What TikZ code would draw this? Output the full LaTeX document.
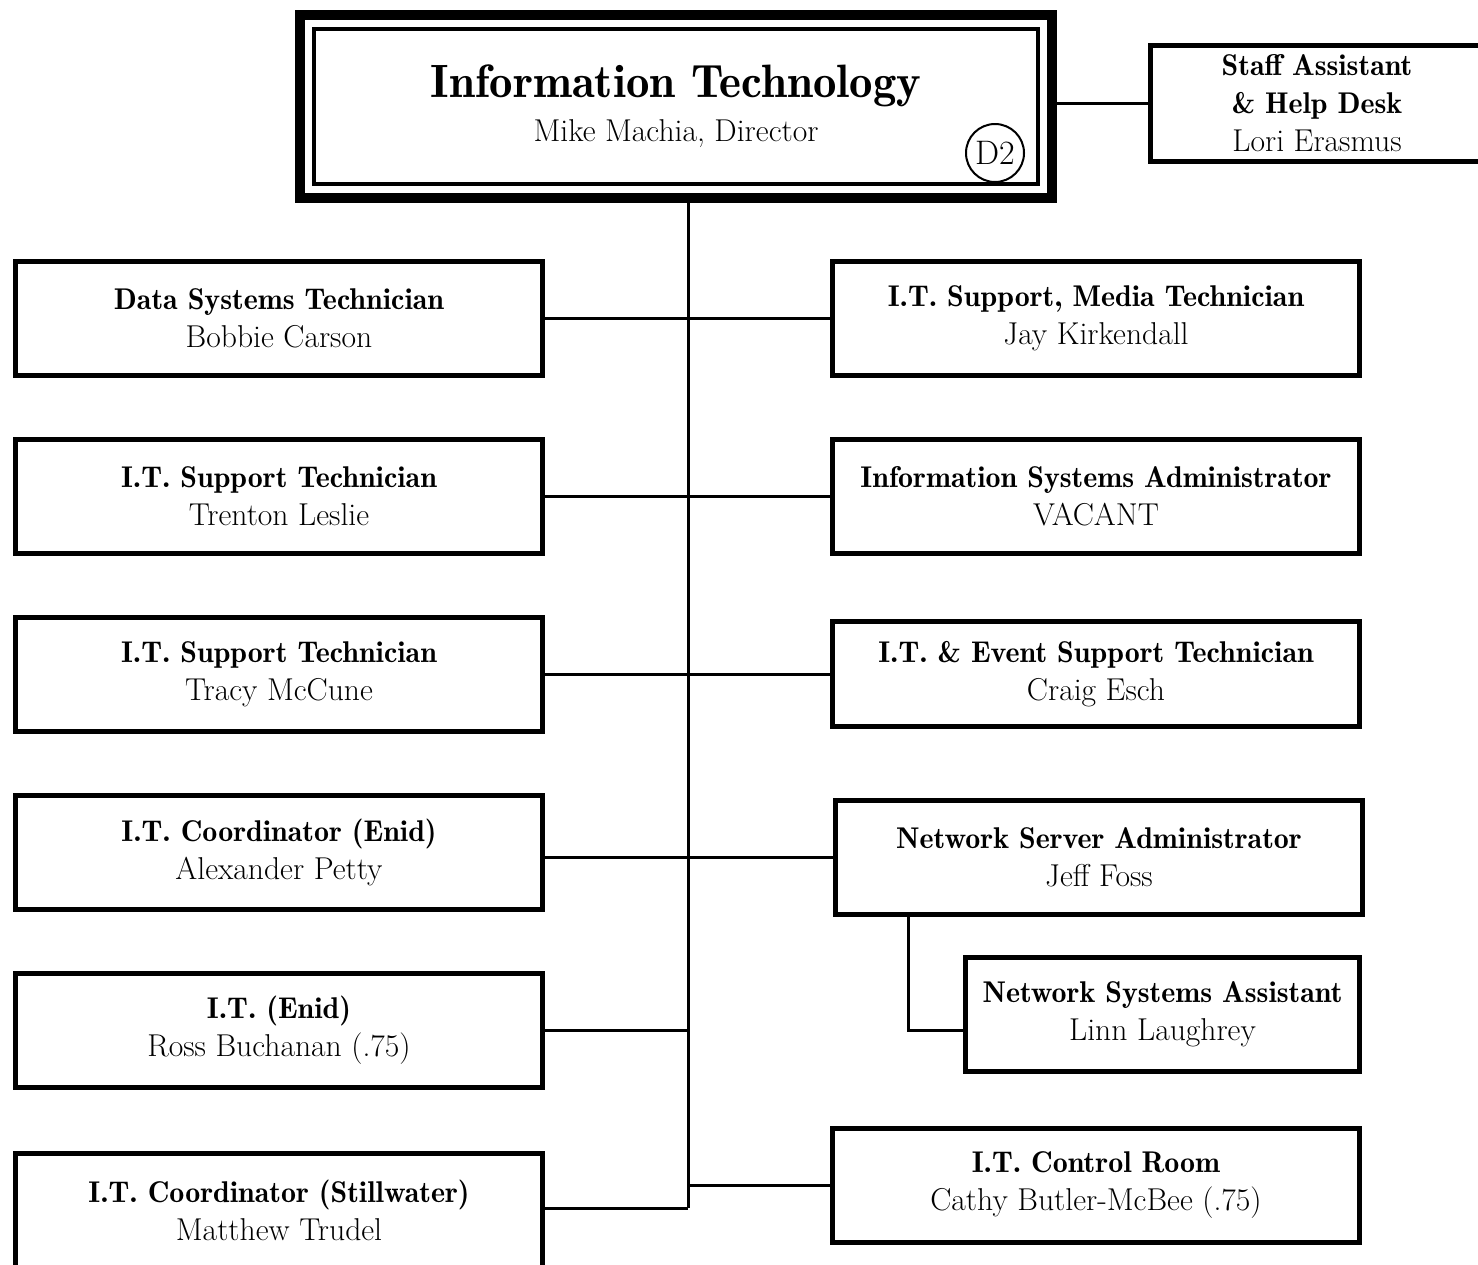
\documentclass[tikz,border=0pt]{standalone}
\usepackage{tikz}
\usetikzlibrary{positioning,fit}

\newcommand\titlefont{\fontsize{23.4}{26}\fontseries{b}\selectfont}
\newcommand\boxfont{\fontsize{15.8}{19}\selectfont}
\newcommand\post[1]{{\fontsize{15}{19}\fontseries{b}\selectfont #1}}

\begin{document}
\begin{tikzpicture}[x=0.5pt, y=-0.5pt, node distance=89pt, line width=1.5pt,
                main node/.style={draw, line width=2.5pt, align=center, font=\boxfont,
                  minimum width=263.5pt, minimum height=57pt, inner sep=0pt}]

  \useasboundingbox (0,0) rectangle (1478,1264);

  % director
  \node[draw, line width=1.8pt, outer sep=0pt, minimum width=362pt, minimum height=77.5pt,
        align=center, font=\boxfont] (top) at (676,106.5)
        {{\titlefont Information Technology}\\[3pt] Mike Machia, Director};
  \node[draw, line width=5pt, fit=(top), inner sep=7pt] (frame) {};
  \node[circle, draw, line width=1pt, minimum size=29pt, inner sep=0pt,
        font=\fontsize{17}{19}\selectfont] (d2) at (995,153) {D2};
  \node[main node, minimum width=166.5pt, minimum height=58pt] (staff) at (1317,103.5)
        {\post{Staff Assistant}\\ \post{\& Help Desk}\\ Lori Erasmus};

  % left column
  \node[main node] (l1) at (279,318) {\post{Data Systems Technician}\\ Bobbie Carson};
  \node[main node] (l2) [below of=l1] {\post{I.T. Support Technician}\\ Trenton Leslie};
  \node[main node] (l3) [below of=l2] {\post{I.T. Support Technician}\\ Tracy McCune};
  \node[main node] (l4) [below of=l3] {\post{I.T. Coordinator (Enid)}\\ Alexander Petty};
  \node[main node] (l5) [below of=l4] {\post{I.T. (Enid)}\\ Ross Buchanan (.75)};
  \node[main node] (l6) [below of=l5, yshift=-1.2pt] {\post{I.T. Coordinator (Stillwater)}\\ Matthew Trudel};

  % right column
  \node[main node] (r1) at (1096,318) {\post{I.T. Support, Media Technician}\\ Jay Kirkendall};
  \node[main node] (r2) [below of=r1] {\post{Information Systems Administrator}\\ VACANT};
  \node[main node, minimum height=52.5pt] (r3) [below of=r2] {\post{I.T. \& Event Support Technician}\\ Craig Esch};
  \node[main node] (r4) at (1099,857) {\post{Network Server Administrator}\\ Jeff Foss};
  \node[main node, minimum width=197pt] (r5) at (1162.5,1014) {\post{Network Systems Assistant}\\ Linn Laughrey};
  \node[main node] (r6) at (1096,1185) {\post{I.T. Control Room}\\ Cathy Butler-McBee (.75)};

  \coordinate (end) at (688,1208);
  \coordinate (bend) at (908,1030);

  \path[draw]
    (end |- frame.south) -- (end)
    (frame.east |- staff.west) -- (staff.west)
    (l1) -- (r1)
    (l2) -- (r2)
    (l3) -- (r3)
    (l4.east |- r4.west) -- (r4.west)
    (l5.east) -- (l5.east -| end)
    (l6.east |- end) -- (end)
    (r6.west) -- (r6.west -| end)
    (r4.south -| bend) -- (bend) -- (bend -| r5.west);
\end{tikzpicture}
\end{document}
